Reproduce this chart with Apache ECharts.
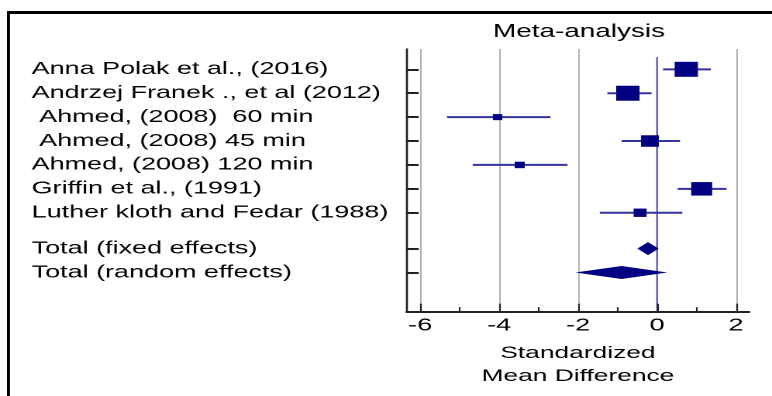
<!DOCTYPE html>
<html>
<head>
<meta charset="utf-8">
<script src="https://cdn.jsdelivr.net/npm/echarts@6.0.0/dist/echarts.min.js"></script>
<style>
  html, body { margin: 0; padding: 0; background: #fff; overflow: hidden; width: 772px; height: 396px; }
  #chart { width: 498px; height: 396px; transform: scaleX(1.5502); transform-origin: 0 0; }
</style>
</head>
<body>
<div id="chart"></div>
<script>
// ---- data ----
const studies = [
  'Anna Polak et al., (2016)',
  'Andrzej Franek ., et al (2012)',
  ' Ahmed, (2008)  60 min',
  ' Ahmed, (2008) 45 min',
  'Ahmed, (2008) 120 min',
  'Griffin et al., (1991)',
  'Luther kloth and Fedar (1988)'
];
const smd    = [0.74, -0.74, -4.04, -0.18, -3.48, 1.13, -0.43];
const ciLow  = [0.15, -1.26, -5.32, -0.90, -4.67, 0.52, -1.45];
const ciHigh = [1.36, -0.14, -2.70, 0.58, -2.27, 1.76, 0.64];
const weights = [24.7, 24.7, 4.0, 14.5, 4.6, 20.0, 7.6];

const totals    = ['Total (fixed effects)', 'Total (random effects)'];
const totalSmd  = [-0.23, -0.90];
const totalLow  = [-0.50, -2.07];
const totalHigh = [0.04, 0.26];

const rowPos = [0, 1, 2, 3, 4, 5, 6, 7.5, 8.5];
const xTicks = [-6, -4, -2, 0, 2];
const xMinorTicks = [-5, -3, -1, 1];
const gridValues = [-6, -4, -2, 2];

const titleText = 'Meta-analysis';
const xName = 'Standardized\nMean Difference';

// ---- build ----
const allLabels = studies.concat(totals);
const FONT = '"Liberation Sans", Arial, sans-serif';
const X_MIN = -6.34, X_MAX = 2.33, Y_MIN = -0.85, Y_MAX = 10.14;
const grid = { left: 262.4, right: 14.8, top: 49, bottom: 84.3 };

const studyData = studies.map((s, i) => [ciLow[i], ciHigh[i], smd[i], rowPos[i], weights[i]]);
const totalData = totals.map((s, i) => [totalLow[i], totalHigh[i], totalSmd[i], rowPos[studies.length + i]]);

const chart = echarts.init(document.getElementById('chart'), null, { renderer: 'canvas', devicePixelRatio: 2 });

const baseX = { type: 'value', min: X_MIN, max: X_MAX, position: 'bottom', gridIndex: 0 };

chart.setOption({
  animation: false,
  backgroundColor: '#fff',
  textStyle: { fontFamily: FONT },
  title: {
    text: titleText, left: 373.5, top: 23, padding: 0, textAlign: 'center',
    textStyle: { fontFamily: FONT, fontSize: 18, fontWeight: 'normal', color: '#000' }
  },
  graphic: [
    { type: 'rect', left: 4.5, top: 11, shape: { width: 1.94, height: 400 }, style: { fill: '#000' }, silent: true },
    { type: 'rect', left: 4.5, top: 11, shape: { width: 500, height: 3 }, style: { fill: '#000' }, silent: true }
  ],
  grid: grid,
  xAxis: [
    Object.assign({}, baseX, {
      axisLine: { onZero: false, lineStyle: { color: '#222', width: 2 } },
      axisTick: { inside: true, length: 8, customValues: xTicks, lineStyle: { color: '#222', width: 1.1 } },
      axisLabel: { customValues: xTicks, fontFamily: FONT, fontSize: 17.5, color: '#000', margin: 5 },
      splitLine: { show: false },
      name: xName, nameLocation: 'middle', nameGap: 30,
      nameTextStyle: { fontFamily: FONT, fontSize: 17, lineHeight: 23, color: '#000' },
      z: 5
    }),
    Object.assign({}, baseX, {
      axisLine: { show: false, onZero: false },
      axisTick: { show: false, customValues: gridValues },
      axisLabel: { show: false },
      splitLine: { show: true, lineStyle: { color: '#a3a3a3', width: 0.85 } }
    }),
    Object.assign({}, baseX, {
      axisLine: { show: false, onZero: false },
      axisTick: { show: true, inside: true, length: 4.5, customValues: xMinorTicks, lineStyle: { color: '#222', width: 1.1 } },
      axisLabel: { show: false },
      splitLine: { show: false }
    })
  ],
  yAxis: {
    type: 'value', inverse: true, min: Y_MIN, max: Y_MAX,
    axisLine: { onZero: false, lineStyle: { color: '#222', width: 1.3 } },
    axisTick: { inside: true, length: 7.7, customValues: rowPos, lineStyle: { color: '#222', width: 2 } },
    axisLabel: {
      customValues: rowPos, align: 'left', margin: 242,
      fontFamily: FONT, fontSize: 17.4, color: '#000',
      formatter: v => { const k = rowPos.indexOf(v); return k >= 0 ? allLabels[k] : ''; }
    },
    splitLine: { show: false },
    z: 5
  },
  series: [
    {
      type: 'line', xAxisIndex: 0, z: 1, symbol: 'none', silent: true,
      data: [[0, -0.51], [0, Y_MAX]],
      lineStyle: { color: '#1c1c96', width: 0.85 }
    },
    {
      type: 'custom', xAxisIndex: 0, z: 3, silent: true,
      encode: { x: [0, 1, 2], y: 3 },
      data: studyData,
      renderItem: (params, api) => {
        const y = api.value(3);
        const lo = api.coord([api.value(0), y]);
        const hi = api.coord([api.value(1), y]);
        const c = api.coord([api.value(2), y]);
        const sz = 3.02 * Math.sqrt(api.value(4));
        return {
          type: 'group',
          children: [
            { type: 'line', shape: { x1: lo[0], y1: lo[1], x2: hi[0], y2: hi[1] }, style: { stroke: '#34349e', lineWidth: 2 } },
            { type: 'rect', shape: { x: c[0] - sz / 2, y: c[1] - sz / 2, width: sz, height: sz }, style: { fill: '#000080' } }
          ]
        };
      }
    },
    {
      type: 'custom', xAxisIndex: 0, z: 3, silent: true,
      encode: { x: [0, 1, 2], y: 3 },
      data: totalData,
      renderItem: (params, api) => {
        const y = api.value(3);
        const lo = api.coord([api.value(0), y]);
        const hi = api.coord([api.value(1), y]);
        const c = api.coord([api.value(2), y]);
        const h = 6.5;
        return {
          type: 'polygon',
          shape: { points: [[lo[0], lo[1]], [c[0], c[1] - h], [hi[0], hi[1]], [c[0], c[1] + h]] },
          style: { fill: '#000080' }
        };
      }
    }
  ]
});
</script>
</body>
</html>
